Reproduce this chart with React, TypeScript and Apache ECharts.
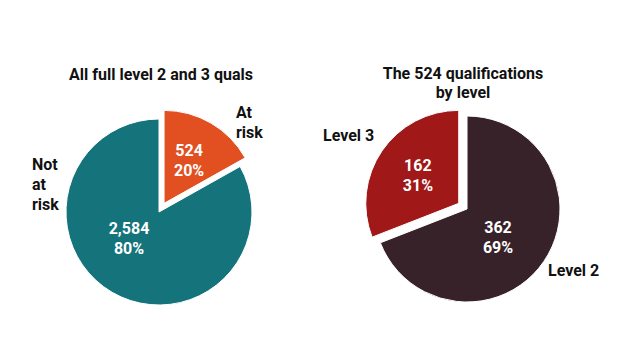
import React, { useEffect, useRef } from "react";
import * as echarts from "echarts";

const riskCategories = ["At risk", "Not at risk"];
const riskValues = [524, 2584];
const riskPctLabels = ["20%", "80%"];
const riskColors = ["#e24f20", "#15737b"];

const levelCategories = ["Level 2", "Level 3"];
const levelValues = [362, 162];
const levelPctLabels = ["69%", "31%"];
const levelColors = ["#38222a", "#a01818"];

const titles = ["All full level 2 and 3 quals", "The 524 qualifications\nby level"];

const FONT = "Roboto, 'Open Sans', sans-serif";

// label placement (pixels)
const riskInnerPos = [
  [198, 155],
  [129, 238],
];
const levelInnerPos = [
  [498, 237],
  [408, 178],
];

export default function App() {
  const ref = useRef<HTMLDivElement>(null);
  useEffect(() => {
    if (!ref.current) return;
    const chart = echarts.init(ref.current, null, { renderer: "svg" });
    const mkLabel = (pcts: string[]) => ({
      show: true,
      position: "inside",
      color: "#ffffff",
      fontFamily: FONT,
      fontWeight: "bold",
      fontSize: 16,
      lineHeight: 20,
      formatter: (p: any) => `${Number(p.value).toLocaleString("en-US")}\n${pcts[p.dataIndex]}`,
    });
    const nameStyle = {
      fill: "#111111",
      font: `bold 16px ${FONT}`,
      lineHeight: 20,
      textVerticalAlign: "middle",
    };
    chart.setOption({
      animation: false,
      title: [
        {
          text: titles[0],
          left: 161,
          top: 66,
          textAlign: "center",
          textStyle: { fontFamily: FONT, fontWeight: "bold", fontSize: 16, color: "#111" },
          padding: 0,
        },
        {
          text: titles[1],
          left: 463,
          top: 64,
          textAlign: "center",
          textStyle: { fontFamily: FONT, fontWeight: "bold", fontSize: 16, color: "#111", lineHeight: 19 },
          padding: 0,
        },
      ],
      series: [
        {
          type: "pie",
          center: [159, 212],
          radius: 93,
          startAngle: 90,
          clockwise: true,
          selectedMode: "single",
          selectedOffset: 10,
          avoidLabelOverlap: false,
          emphasis: { disabled: true },
          itemStyle: { borderColor: "#fff", borderWidth: 1 },
          label: mkLabel(riskPctLabels),
          labelLine: { show: false },
          labelLayout: (p: any) => ({
            x: riskInnerPos[p.dataIndex][0],
            y: riskInnerPos[p.dataIndex][1],
            align: "center",
            verticalAlign: "middle",
          }),
          data: riskCategories.map((name, i) => ({
            name,
            value: riskValues[i],
            selected: i === 0,
            itemStyle: { color: riskColors[i] },
          })),
        },
        {
          type: "pie",
          center: [467, 209],
          radius: 93,
          startAngle: 90,
          clockwise: true,
          selectedMode: "single",
          selectedOffset: 10,
          avoidLabelOverlap: false,
          emphasis: { disabled: true },
          itemStyle: { borderColor: "#fff", borderWidth: 1 },
          label: mkLabel(levelPctLabels),
          labelLine: { show: false },
          labelLayout: (p: any) => ({
            x: levelInnerPos[p.dataIndex][0],
            y: levelInnerPos[p.dataIndex][1],
            align: "center",
            verticalAlign: "middle",
          }),
          data: levelCategories.map((name, i) => ({
            name,
            value: levelValues[i],
            selected: i === 1,
            itemStyle: { color: levelColors[i] },
          })),
        },
      ],
      graphic: [
        { type: "text", left: 236, top: 102, style: { ...nameStyle, text: "At\nrisk" } },
        { type: "text", left: 32, top: 154, style: { ...nameStyle, text: "Not\nat\nrisk" } },
        { type: "text", left: 323, top: 125, style: { ...nameStyle, text: levelCategories[1] } },
        { type: "text", left: 548, top: 260, style: { ...nameStyle, text: levelCategories[0] } },
      ],
    });
    return () => chart.dispose();
  }, []);
  return (
    <div
      ref={ref}
      style={{ position: "fixed", left: 0, top: 0, width: 630, height: 360, background: "#fff" }}
    />
  );
}
